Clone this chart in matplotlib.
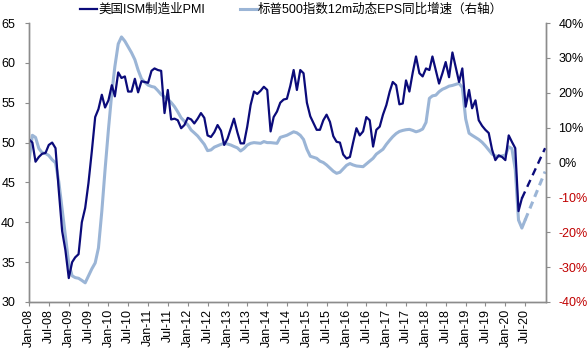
import pandas as pd
import matplotlib
matplotlib.use('Agg')
import matplotlib.pyplot as plt
import matplotlib.dates as mdates

plt.rcParams['font.family'] = ['Liberation Sans', 'Noto Sans CJK SC']

# ISM manufacturing PMI, monthly from Jan-08 (solid part)
pmi_start = '2008-01-01'
pmi_values = [
    50.4, 50.0, 47.6, 48.2, 48.6, 48.7, 49.7, 50.0, 49.3, 44.0,
    38.9, 36.5, 33.0, 35.0, 35.6, 36.0, 40.0, 41.8, 44.9, 48.9,
    53.2, 54.2, 56.0, 54.4, 55.3, 57.2, 55.8, 58.8, 58.1, 58.3,
    56.4, 56.4, 58.0, 56.3, 57.7, 57.6, 57.5, 59.0, 59.3, 59.1,
    59.0, 53.7, 56.6, 52.9, 53.0, 52.8, 51.8, 52.2, 53.1, 52.9,
    52.4, 53.0, 53.7, 53.1, 50.9, 50.7, 51.3, 52.2, 51.5, 49.7,
    50.5, 51.8, 53.0, 51.3, 49.9, 49.9, 52.0, 54.7, 56.4, 56.1,
    56.5, 57.0, 56.6, 51.4, 53.2, 53.9, 55.0, 55.4, 55.5, 57.1,
    59.1, 56.6, 59.1, 58.7, 55.0, 53.3, 52.5, 51.6, 51.6, 52.8,
    53.5, 52.6, 50.8, 50.1, 50.0, 48.5, 48.0, 48.2, 50.0, 51.8,
    50.9, 51.4, 53.2, 52.8, 49.5, 51.6, 52.0, 53.5, 54.7, 56.4,
    57.6, 57.2, 54.8, 54.9, 57.8, 56.4, 58.8, 60.8, 58.7, 58.3,
    59.3, 59.1, 60.8, 59.1, 57.4, 58.7, 60.1, 58.2, 61.3, 59.5,
    57.6, 59.3, 54.5, 56.6, 54.3, 55.3, 52.8, 52.1, 51.6, 51.2,
    49.1, 47.8, 48.4, 48.2, 47.8, 50.9, 50.1, 49.3, 41.4, 43.0,
]

# S&P 500 12m forward EPS yoy growth (%), monthly from Jan-08 (solid part)
eps_start = '2008-01-01'
eps_values = [
    0.5, 7.8, 7.2, 4.0, 2.8, 2.6, 2.0, 0.8, -0.1, -5.5,
    -13.5, -21.5, -29.0, -32.5, -33.0, -33.2, -33.8, -34.5, -32.5, -30.5,
    -28.8, -24.5, -14.0, -2.0, 9.5, 20.0, 27.5, 34.0, 36.0, 34.8,
    33.2, 31.5, 29.5, 26.5, 24.0, 23.0, 22.2, 21.8, 21.6, 20.6,
    19.5, 18.8, 18.2, 17.2, 16.0, 14.5, 12.8, 11.8, 10.8, 9.3,
    8.5, 7.6, 6.4, 5.2, 3.4, 3.6, 4.4, 4.8, 5.2, 5.5,
    5.3, 5.0, 4.6, 4.2, 3.3, 4.0, 5.0, 5.5, 5.7, 5.6,
    5.5, 6.0, 5.7, 5.7, 5.6, 5.5, 7.2, 7.5, 7.8, 8.3,
    8.8, 8.5, 7.8, 6.6, 3.8, 1.8, 1.5, 1.2, 0.4, 0.0,
    -0.7, -1.6, -2.5, -3.1, -2.8, -1.8, -0.8, -0.3, -0.7, -1.0,
    -1.1, -1.2, -0.4, 0.4, 1.2, 2.4, 3.1, 3.8, 5.2, 6.4,
    7.4, 8.3, 8.9, 9.2, 9.4, 9.5, 9.2, 8.8, 9.1, 9.6,
    11.5, 18.4, 19.1, 19.3, 20.3, 21.0, 21.4, 21.9, 22.1, 22.4,
    22.7, 21.5, 12.5, 8.4, 7.8, 7.2, 6.6, 5.8, 4.8, 3.6,
    2.4, 1.9, 1.7, 1.9, 2.1, 4.5, 4.0, -2.0, -16.5, -18.8,
    -16.5,
]

# dashed projections
pmi_fcst_dates = ['2020-06-01', '2021-01-01']
pmi_fcst = [43.0, 49.3]
eps_fcst_dates = ['2020-07-01', '2021-01-01']
eps_fcst = [-16.5, -2.6]

label_pmi = '美国ISM制造业PMI'
label_eps = '标普500指数12m动态EPS同比增速（右轴）'

left_ticks = [30, 35, 40, 45, 50, 55, 60, 65]
right_ticks = [-40, -30, -20, -10, 0, 10, 20, 30, 40]

dark = '#0B0B7A'
light = '#9BB5D6'
grey = '#8C8C8C'
red = '#C00000'

pmi_dates = pd.date_range(pmi_start, periods=len(pmi_values), freq='MS')
eps_dates = pd.date_range(eps_start, periods=len(eps_values), freq='MS')

fig = plt.figure(figsize=(5.88, 3.52), dpi=100)
ax = fig.add_axes([29 / 588, 50 / 352, 517 / 588, 279 / 352])
ax2 = ax.twinx()

# light series on the right axis
l2, = ax2.plot(eps_dates, eps_values, color=light, lw=2.2, label=label_eps)
ax2.plot(pd.to_datetime(eps_fcst_dates), eps_fcst, color=light, lw=2.2,
         linestyle=(0, (2.4, 1.7)))

# dark series on the left axis, drawn on top
l1, = ax.plot(pmi_dates, pmi_values, color=dark, lw=1.6, label=label_pmi)
ax.plot(pd.to_datetime(pmi_fcst_dates), pmi_fcst, color=dark, lw=1.7,
        linestyle=(0, (3.2, 2.2)))
ax.set_zorder(ax2.get_zorder() + 1)
ax.patch.set_visible(False)

ax.set_ylim(30, 65)
ax2.set_ylim(-40, 40)
ax.set_xlim(pd.Timestamp('2008-01-01'), pd.Timestamp('2021-01-09'))

ax.set_yticks(left_ticks, labels=[str(v) for v in left_ticks])
ax2.set_yticks(right_ticks, labels=[f'{v}%' for v in right_ticks])
for lab, v in zip(ax2.get_yticklabels(), right_ticks):
    lab.set_color(red if v < 0 else 'black')

xt = pd.date_range('2008-01-01', '2020-07-01', freq='6MS')
ax.set_xticks(xt)
ax.xaxis.set_major_formatter(mdates.DateFormatter('%b-%y'))

for a in (ax, ax2):
    a.spines['top'].set_visible(False)
    for s in ('left', 'right', 'bottom'):
        a.spines[s].set_color(grey)
        a.spines[s].set_linewidth(1.0)

ax.tick_params(axis='y', direction='out', length=3, width=0.8, color=grey,
               labelsize=9, pad=7)
ax.tick_params(axis='x', direction='out', length=3, width=0.8, color=grey,
               labelsize=9, pad=2, labelrotation=90)
ax2.tick_params(axis='y', direction='out', length=3, width=0.8, color=grey,
                labelsize=9, pad=6)

fig.legend([l1, l2], [label_pmi, label_eps], loc='center left',
           bbox_to_anchor=(80 / 588, 1 - 10 / 352), ncol=2, frameon=False,
           fontsize=9, handlelength=1.35, handletextpad=0.1,
           columnspacing=2.8, borderaxespad=0, borderpad=0)

fig.savefig('out.png', dpi=100)
